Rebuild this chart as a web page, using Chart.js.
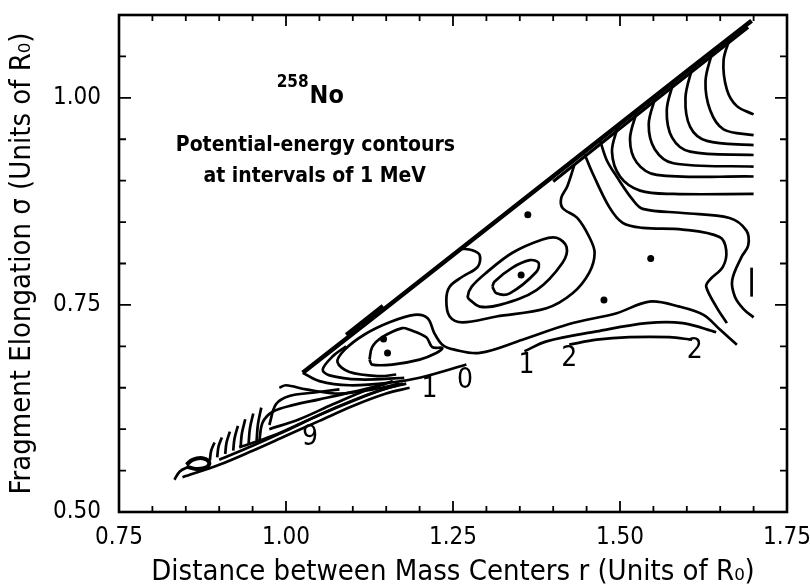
<!DOCTYPE html>
<html>
<head>
<meta charset="utf-8">
<script src="https://cdn.jsdelivr.net/npm/chart.js@4.4.1/dist/chart.umd.min.js"></script>
<style>
  html, body { margin: 0; padding: 0; background: #fff; }
  #box { width: 810px; height: 588px; }
</style>
</head>
<body>
<div id="box"><canvas id="chart"></canvas></div>
<script>
// axes (r and sigma in units of R0)
const rRange = [0.75, 1.75];
const sigmaRange = [0.50, 1.10];
const tickStep = 0.05;

// contour lines, as [r, sigma]
const envelope = [[1.025,0.668],[1.15,0.747],[1.30,0.842],[1.45,0.937],[1.60,1.032],[1.697,1.093]];
const envelopeUnder = [[1.40,0.899],[1.55,0.995],[1.692,1.085]];
const envelopeBand = [[1.09,0.714],[1.145,0.749]];

const fan1 = [[1.665,1.073],[1.655,1.045],[1.66,1.01],[1.675,0.99],[1.70,0.98]];
const fan2 = [[1.638,1.055],[1.628,1.02],[1.635,0.985],[1.655,0.962],[1.70,0.955]];
const fan3 = [[1.608,1.036],[1.598,1.0],[1.605,0.965],[1.63,0.948],[1.70,0.943]];
const fan4 = [[1.580,1.019],[1.570,0.985],[1.578,0.952],[1.605,0.935],[1.70,0.931]];
const fan5 = [[1.553,1.001],[1.543,0.968],[1.552,0.938],[1.58,0.921],[1.70,0.917]];
const fan6 = [[1.525,0.983],[1.515,0.95],[1.525,0.922],[1.555,0.907],[1.70,0.905]];
const fan7 = [[1.497,0.966],[1.488,0.935],[1.50,0.905],[1.53,0.888],[1.58,0.884],[1.70,0.884]];
const saddleOuter = [[1.470,0.949],[1.48,0.925],[1.495,0.905],[1.519,0.877],[1.534,0.866],[1.594,0.861],
  [1.664,0.855],[1.689,0.840],[1.692,0.822],[1.682,0.808],[1.668,0.780],[1.672,0.760],[1.685,0.745],[1.70,0.735]];
const saddleInner = [[1.447,0.932],[1.459,0.909],[1.484,0.868],[1.504,0.849],[1.534,0.843],[1.594,0.841],
  [1.649,0.832],[1.659,0.816],[1.654,0.796],[1.634,0.780],[1.629,0.772],[1.644,0.748],[1.66,0.728]];
const edgeDash = [[1.697,0.795],[1.697,0.760]];

const centre1 = [[1.309,0.772],[1.315,0.764],[1.335,0.764],[1.375,0.790],[1.378,0.801],[1.365,0.804],
  [1.339,0.795],[1.312,0.778],[1.309,0.772]];
const centre2 = [[1.275,0.756],[1.290,0.748],[1.320,0.750],[1.375,0.768],[1.414,0.801],[1.420,0.820],
  [1.405,0.831],[1.384,0.829],[1.339,0.813],[1.300,0.789],[1.278,0.772],[1.272,0.760],[1.275,0.756]];
const centre3 = [[1.262,0.818],[1.279,0.816],[1.290,0.810],[1.287,0.796],[1.264,0.784],[1.245,0.772],
  [1.240,0.756],[1.245,0.736],[1.264,0.729],[1.315,0.736],[1.390,0.746],[1.429,0.764],[1.454,0.789],
  [1.462,0.813],[1.454,0.832],[1.436,0.855],[1.414,0.867],[1.412,0.879],[1.421,0.893],[1.432,0.920]];

const valley = [[1.675,0.702],[1.650,0.720],[1.625,0.738],[1.589,0.748],[1.544,0.754],[1.495,0.740],
  [1.424,0.727],[1.354,0.708],[1.290,0.692],[1.252,0.696],[1.234,0.702],[1.222,0.716],[1.212,0.734],
  [1.192,0.738],[1.155,0.729],[1.117,0.714],[1.088,0.696],[1.077,0.681],[1.095,0.669],[1.140,0.664],[1.165,0.666]];
const level1 = [[1.357,0.694],[1.39,0.706],[1.465,0.718],[1.54,0.728],[1.594,0.728],[1.644,0.717]];
const level2 = [[1.424,0.702],[1.465,0.708],[1.514,0.711],[1.574,0.711],[1.608,0.708]];
const outerLower = [[1.025,0.668],[1.050,0.658],[1.095,0.653],[1.155,0.656],[1.20,0.662],[1.27,0.678]];
const leftTip = [[1.177,0.662],[1.110,0.660],[1.065,0.665],[1.055,0.672],[1.07,0.688],[1.09,0.700]];
const leftMin = [[1.125,0.684],[1.129,0.699],[1.144,0.711],[1.174,0.722],[1.185,0.720],[1.210,0.711],
  [1.219,0.699],[1.234,0.698],[1.225,0.692],[1.200,0.684],[1.159,0.678],[1.129,0.678],[1.125,0.684]];

const bundle1 = [[0.845,0.542],[0.90,0.557],[0.95,0.574],[1.00,0.592],[1.05,0.610],[1.10,0.628],[1.15,0.643],[1.185,0.650]];
const bundle2 = [[0.90,0.563],[0.95,0.580],[1.00,0.598],[1.05,0.617],[1.10,0.634],[1.15,0.649],[1.18,0.655]];
const bundle3 = [[0.93,0.578],[0.98,0.592],[1.03,0.610],[1.08,0.628],[1.13,0.644],[1.175,0.655]];
const bundle4 = [[0.975,0.600],[1.02,0.612],[1.07,0.630],[1.12,0.647],[1.16,0.658]];
const arc1 = [[0.96,0.585],[0.965,0.608],[0.98,0.621],[1.01,0.629],[1.05,0.636],[1.10,0.645],[1.15,0.655]];
const arc2 = [[0.975,0.605],[0.985,0.630],[1.005,0.640],[1.04,0.644],[1.08,0.648]];
const arc3 = [[0.99,0.650],[1.00,0.653],[1.03,0.648],[1.08,0.643],[1.13,0.648],[1.17,0.655]];
const tipCurl = [[0.833,0.539],[0.841,0.549],[0.855,0.555]];
const tipLoop = [[0.851,0.557],[0.860,0.563],[0.875,0.565],[0.885,0.560],[0.881,0.554],[0.866,0.552],[0.851,0.555]];
const hook1 = [[0.886,0.562],[0.888,0.574],[0.893,0.584]];
const hook2 = [[0.897,0.566],[0.899,0.579],[0.904,0.590]];
const hook3 = [[0.909,0.570],[0.911,0.584],[0.916,0.597]];
const hook4 = [[0.921,0.574],[0.923,0.589],[0.928,0.604]];
const hook5 = [[0.932,0.578],[0.934,0.595],[0.939,0.612]];
const hook6 = [[0.944,0.582],[0.946,0.601],[0.951,0.619]];
const hook7 = [[0.956,0.586],[0.958,0.606],[0.963,0.626]];

const minima = [[1.152,0.692],[1.146,0.709],[1.352,0.786],[1.362,0.859],[1.476,0.756],[1.546,0.806]];

const levelTexts = ['9', '1', '0', '1', '2', '2'];
const levelAt = [[1.036,0.590],[1.215,0.648],[1.268,0.658],[1.360,0.676],[1.424,0.685],[1.612,0.695]];

const thinLines = [fan1, fan2, fan3, fan4, fan5, fan6, fan7, saddleOuter, saddleInner, edgeDash,
  centre1, centre2, centre3, valley, level1, level2, outerLower, leftTip, leftMin,
  bundle1, bundle2, bundle3, bundle4, arc1, arc2, arc3, tipCurl, hook1, hook2, hook3, hook4, hook5, hook6, hook7];

const FONT = "'Liberation Sans Narrow', 'DejaVu Sans Condensed', sans-serif";
const isMajor = v => Math.abs(v / 0.25 - Math.round(v / 0.25)) < 1e-6;
const toPts = arr => arr.map(([x, y]) => ({x, y}));

const datasets = thinLines.map(arr => ({
  data: toPts(arr), showLine: true, borderColor: '#000', borderWidth: 2.7,
  pointRadius: 0, tension: 0.35, fill: false
}));
datasets.push({data: toPts(envelope), showLine: true, borderColor: '#000', borderWidth: 4.5, pointRadius: 0, tension: 0});
datasets.push({data: toPts(envelopeUnder), showLine: true, borderColor: '#000', borderWidth: 3, pointRadius: 0, tension: 0});
datasets.push({data: toPts(envelopeBand), showLine: true, borderColor: '#000', borderWidth: 4, pointRadius: 0, tension: 0});
datasets.push({data: toPts(tipLoop), showLine: true, borderColor: '#000', borderWidth: 4, pointRadius: 0, tension: 0.4});
datasets.push({data: toPts(minima), showLine: false, pointRadius: 3.5, pointBackgroundColor: '#000', pointBorderWidth: 0});

// keep the plot box where the scan has it
const fixPad = s => { s.paddingTop = 0; s.paddingBottom = 0; s.paddingLeft = 0; s.paddingRight = 0; };

const frame = {
  id: 'frame',
  afterDraw(chart) {
    const {ctx, chartArea: a, scales: {x, y}} = chart;
    ctx.save();
    ctx.strokeStyle = '#000';
    ctx.lineWidth = 1.8;
    ctx.beginPath();
    x.ticks.forEach(t => {
      const px = x.getPixelForValue(t.value);
      const len = isMajor(t.value) ? 11 : 6;
      ctx.moveTo(px, a.bottom); ctx.lineTo(px, a.bottom - len);
      ctx.moveTo(px, a.top); ctx.lineTo(px, a.top + len);
    });
    y.ticks.forEach(t => {
      const py = y.getPixelForValue(t.value);
      const len = isMajor(t.value) ? 12 : 7;
      ctx.moveTo(a.left, py); ctx.lineTo(a.left + len, py);
      ctx.moveTo(a.right, py); ctx.lineTo(a.right - len, py);
    });
    ctx.stroke();
    ctx.lineWidth = 2.6;
    ctx.strokeRect(a.left, a.top, a.width, a.height);
    ctx.restore();
  }
};

const notes = {
  id: 'notes',
  afterDatasetsDraw(chart) {
    const {ctx, scales: {x, y}} = chart;
    ctx.save();
    ctx.fillStyle = '#000';
    ctx.textAlign = 'center';
    ctx.textBaseline = 'middle';
    ctx.font = '28px ' + FONT;
    levelTexts.forEach((s, i) => {
      ctx.fillText(s, x.getPixelForValue(levelAt[i][0]), y.getPixelForValue(levelAt[i][1]));
    });
    ctx.font = 'bold 17px ' + FONT;
    ctx.fillText('258', x.getPixelForValue(1.010), y.getPixelForValue(1.019));
    ctx.font = 'bold 25px ' + FONT;
    ctx.fillText('No', x.getPixelForValue(1.061), y.getPixelForValue(1.002));
    ctx.font = 'bold 21px ' + FONT;
    ctx.fillText('Potential-energy contours', x.getPixelForValue(1.044), y.getPixelForValue(0.942));
    ctx.fillText('at intervals of 1 MeV', x.getPixelForValue(1.043), y.getPixelForValue(0.905));
    ctx.restore();
  }
};

new Chart(document.getElementById('chart'), {
  type: 'scatter',
  data: {datasets},
  options: {
    responsive: true,
    maintainAspectRatio: false,
    animation: false,
    layout: {padding: {left: 0, right: 23, top: 15, bottom: 0}},
    plugins: {legend: {display: false}, tooltip: {enabled: false}},
    scales: {
      x: {
        type: 'linear', min: rRange[0], max: rRange[1],
        grid: {display: false, drawTicks: false},
        border: {display: false},
        ticks: {stepSize: tickStep, autoSkip: false, maxRotation: 0, padding: 11, color: '#000',
          font: {family: FONT, size: 24}, callback: v => isMajor(v) ? v.toFixed(2) : ''},
        title: {display: true, text: 'Distance between Mass Centers r (Units of R\u2080)', color: '#000',
          font: {family: FONT, size: 29, lineHeight: 1}, padding: {top: 0, bottom: 1}},
        afterFit: s => { s.height = 76; fixPad(s); }
      },
      y: {
        type: 'linear', min: sigmaRange[0], max: sigmaRange[1],
        grid: {display: false, drawTicks: false},
        border: {display: false},
        ticks: {stepSize: tickStep, autoSkip: false, padding: 18, color: '#000',
          font: {family: FONT, size: 24}, callback: v => isMajor(v) ? v.toFixed(2) : ''},
        title: {display: true, text: 'Fragment Elongation \u03c3 (Units of R\u2080)', color: '#000',
          font: {family: FONT, size: 29, lineHeight: 1}, padding: {top: 8, bottom: 0}},
        afterFit: s => { s.width = 119; fixPad(s); }
      }
    }
  },
  plugins: [frame, notes]
});
</script>
</body>
</html>
